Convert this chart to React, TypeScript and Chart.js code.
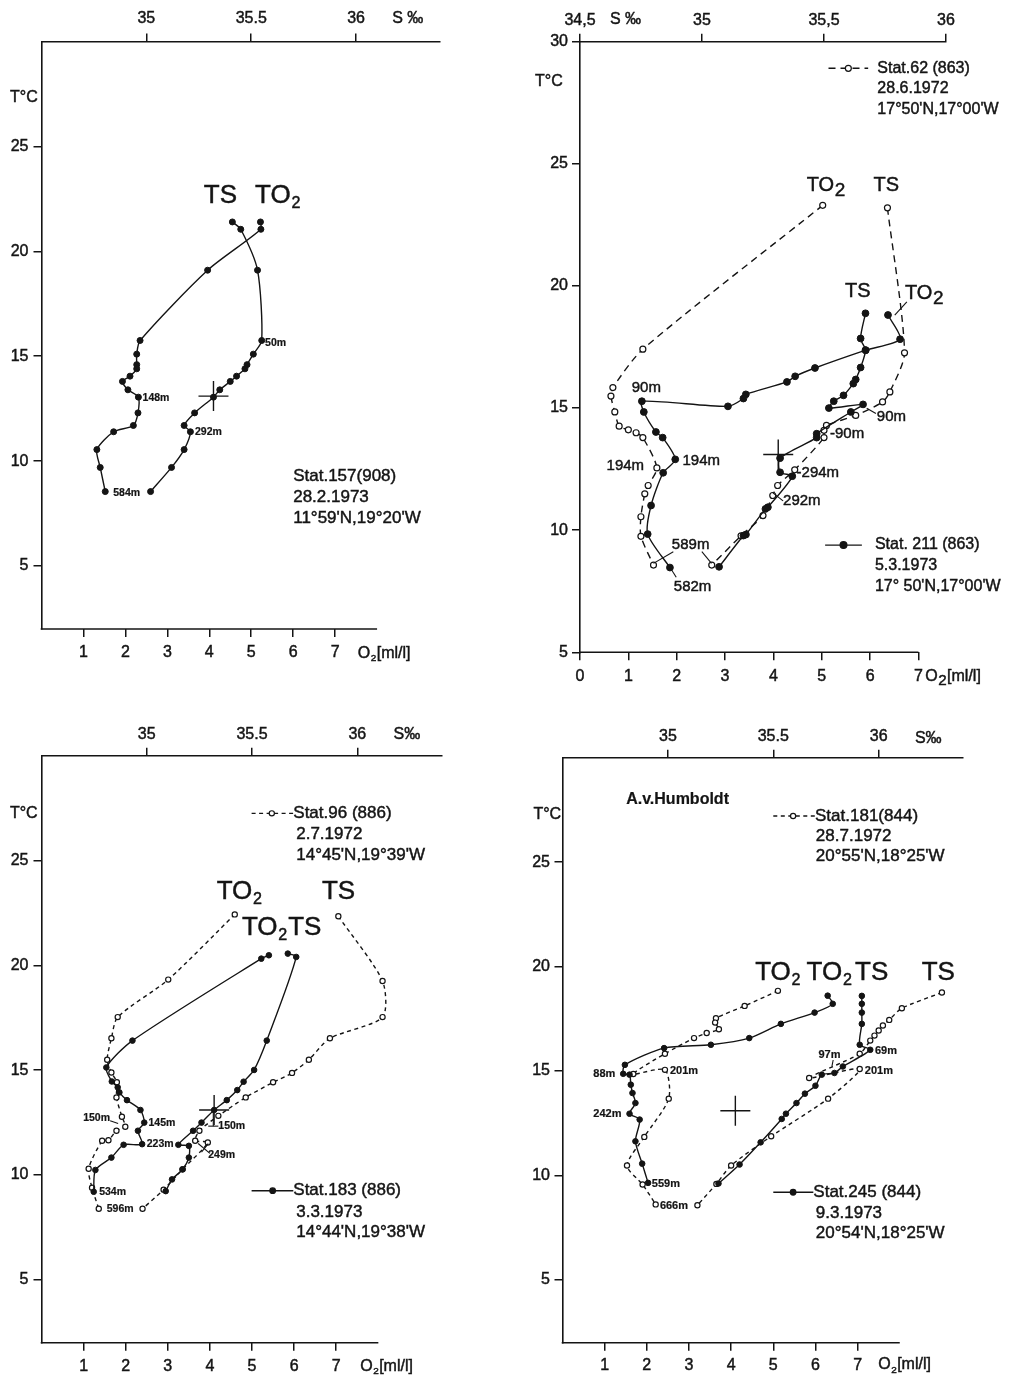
import React, { useEffect, useRef } from 'react';
import { Chart, registerables } from 'chart.js';

Chart.register(...registerables);

const INK = '#141414';
const FONT = '"Liberation Sans", "DejaVu Sans", Arial, sans-serif';

// ---------- Stat.157 (908), 28.2.1973 ----------
const st157Temp = [21.4, 21.05, 19.1, 15.75, 15.1, 14.6, 14.4, 14.05, 13.8, 13.4, 13.05, 12.3, 11.7, 11.4, 10.55, 9.7, 8.55];
const st157Sal = [35.41, 35.45, 35.53, 35.55, 35.51, 35.48, 35.47, 35.43, 35.4, 35.35, 35.32, 35.23, 35.18, 35.21, 35.18, 35.12, 35.02];
const st157Oxy = [5.22, 5.23, 3.96, 2.35, 2.27, 2.27, 2.27, 2.11, 1.93, 2.06, 2.31, 2.3, 2.19, 1.72, 1.32, 1.4, 1.52];

// ---------- Stat.62 (863), 28.6.1972 ----------
const st62TempO = [23.3, 17.41, 15.84, 15.49, 14.84, 14.26, 14.11, 13.99, 13.79, 12.55, 11.83, 11.49, 10.55, 9.75, 8.57];
const st62Oxy = [5.02, 1.3, 0.68, 0.64, 0.72, 0.81, 1.0, 1.16, 1.3, 1.59, 1.41, 1.34, 1.26, 1.26, 1.52];
const st62TempS = [23.2, 17.26, 15.66, 15.25, 14.7, 14.29, 14.09, 13.79, 12.47, 11.83, 11.42, 10.6, 9.77, 8.57];
const st62Sal = [35.76, 35.83, 35.77, 35.74, 35.63, 35.51, 35.5, 35.5, 35.38, 35.31, 35.29, 35.25, 35.16, 35.04];

// ---------- Stat.211 (863), 5.3.1973 ----------
const st211TempO = [18.81, 17.82, 17.37, 16.64, 16.3, 16.07, 15.56, 15.39, 15.07, 15.28, 14.84, 14.02, 13.79, 12.9, 12.35, 11.01, 9.84, 8.47];
const st211Oxy = [6.37, 6.62, 5.91, 4.86, 4.45, 4.28, 3.43, 3.38, 3.06, 1.28, 1.32, 1.57, 1.71, 1.97, 1.72, 1.47, 1.4, 1.86];
const st211TempS = [18.88, 17.85, 17.37, 16.66, 16.17, 16.0, 15.52, 15.28, 15.0, 15.15, 14.84, 13.95, 13.79, 12.95, 12.37, 12.21, 10.94, 10.87, 9.82, 9.78, 8.5];
const st211Sal = [35.67, 35.65, 35.67, 35.65, 35.63, 35.62, 35.58, 35.54, 35.52, 35.66, 35.61, 35.47, 35.47, 35.32, 35.32, 35.37, 35.27, 35.26, 35.18, 35.17, 35.07];

// ---------- Stat.96 (886), 2.7.1972 ----------
const st96TempO = [22.43, 19.32, 17.53, 16.52, 15.5, 14.89, 14.42, 13.7, 12.78, 12.3, 12.11, 11.66, 11.63, 10.3, 9.39, 8.39];
const st96Oxy = [4.59, 3.01, 1.81, 1.66, 1.56, 1.66, 1.79, 1.78, 1.91, 1.99, 1.78, 1.59, 1.44, 1.12, 1.2, 1.36];
const st96TempS = [22.34, 19.25, 17.53, 16.52, 15.5, 14.87, 14.42, 13.7, 12.82, 12.11, 11.63, 11.55, 10.27, 9.3, 8.39];
const st96Sal = [35.91, 36.12, 36.12, 35.87, 35.77, 35.69, 35.6, 35.47, 35.34, 35.25, 35.23, 35.29, 35.17, 35.08, 34.98];

// ---------- Stat.183 (886), 3.3.1973 ----------
const st183TempO = [20.48, 20.32, 16.41, 15.13, 14.46, 14.18, 13.94, 13.57, 13.1, 12.5, 12.11, 11.47, 11.44, 10.83, 10.24, 9.2];
const st183Oxy = [5.4, 5.22, 2.16, 1.54, 1.67, 1.81, 1.85, 2.03, 2.35, 2.44, 2.29, 2.39, 1.95, 1.66, 1.28, 1.24];
const st183TempS = [20.56, 20.4, 16.41, 15.01, 14.45, 14.05, 13.57, 13.1, 12.5, 12.11, 11.44, 11.39, 10.83, 10.27, 9.79, 9.23];
const st183Sal = [35.67, 35.71, 35.57, 35.51, 35.46, 35.43, 35.38, 35.32, 35.26, 35.22, 35.15, 35.2, 35.2, 35.17, 35.12, 35.09];

// ---------- Stat.181 (844), 28.7.1972 ----------
const st181TempO = [18.84, 18.12, 17.53, 17.32, 17.0, 16.82, 16.58, 15.83, 14.86, 15.06, 13.68, 11.85, 10.48, 9.57, 8.62];
const st181Oxy = [5.11, 4.32, 3.64, 3.62, 3.71, 3.42, 3.12, 2.43, 1.68, 2.43, 2.52, 1.94, 1.53, 1.9, 2.21];
const st181TempS = [18.76, 18.01, 17.45, 17.18, 16.94, 16.7, 16.46, 15.83, 14.67, 15.1, 13.68, 11.88, 10.48, 9.6, 8.58];
const st181Sal = [36.3, 36.11, 36.05, 36.02, 36.0, 35.98, 35.96, 35.91, 35.67, 35.91, 35.76, 35.49, 35.3, 35.23, 35.14];

// ---------- Stat.245 (844), 9.3.1973 ----------
const st245TempO = [18.61, 18.22, 17.8, 17.26, 16.58, 16.26, 16.1, 15.3, 14.87, 14.83, 14.35, 13.95, 13.47, 12.96, 12.68, 11.64, 10.57, 9.65];
const st245Oxy = [6.29, 6.41, 5.98, 5.18, 4.43, 3.52, 2.41, 1.48, 1.44, 1.59, 1.62, 1.66, 1.73, 1.59, 1.83, 1.73, 1.89, 2.03];
const st245TempS = [18.6, 18.22, 17.8, 17.26, 16.26, 16.02, 15.22, 14.91, 14.83, 14.3, 13.92, 13.47, 12.96, 12.71, 11.59, 10.53, 9.62];
const st245Sal = [35.92, 35.92, 35.92, 35.92, 35.91, 35.96, 35.83, 35.79, 35.73, 35.7, 35.65, 35.61, 35.56, 35.54, 35.44, 35.34, 35.24];

// reference cross (O2 / T)
const refMarkO2 = [4.1];
const refMarkTemp = [13.1];

// axis ticks
const o2TicksA = [1, 2, 3, 4, 5, 6, 7];
const o2TicksB = [0, 1, 2, 3, 4, 5, 6, 7];
const tempTicksA = [5, 10, 15, 20, 25];
const tempTicksB = [5, 10, 15, 20, 25, 30];
const salTicksA = [35, 35.5, 36];
const salLabelsA = ['35', '35.5', '36'];
const salTicksB = [34.5, 35, 35.5, 36];
const salLabelsB = ['34,5', '35', '35,5', '36'];

const pts = (xs: number[], ts: number[]) => xs.map((v, i) => ({ x: v, y: ts[i] }));

// text with "_x" meaning x is drawn as a subscript
function drawRich(ctx: CanvasRenderingContext2D, str: string, x: number, y: number, size: number, bold: boolean, sub: any) {
  const setFont = (s: number) => { ctx.font = `${bold ? 'bold ' : ''}${s}px ${FONT}`; };
  const put = (s: string, px: number, py: number) => { ctx.strokeText(s, px, py); ctx.fillText(s, px, py); };
  ctx.lineWidth = bold ? 0.2 : 0.45;
  ctx.strokeStyle = INK;
  const parts = str.split('_');
  let cx = x;
  setFont(size);
  put(parts[0], cx, y);
  cx += ctx.measureText(parts[0]).width;
  for (let i = 1; i < parts.length; i++) {
    const sc = parts[i].charAt(0);
    const rest = parts[i].slice(1);
    setFont(size * sub.scale);
    put(sc, cx + size * 0.03, y + size * sub.drop);
    cx += ctx.measureText(sc).width + size * 0.06;
    setFont(size);
    put(rest, cx, y);
    cx += ctx.measureText(rest).width;
  }
}

function annotations(p: any) {
  return {
    id: 'annotations',
    afterDraw(chart: any) {
      const ctx: CanvasRenderingContext2D = chart.ctx;
      const xs = chart.scales.x;
      const ys = chart.scales.y;
      const px = (v: number) => xs.getPixelForValue(v);
      const py = (v: number) => ys.getPixelForValue(v);
      const bottom = chart.chartArea.bottom;
      ctx.save();
      ctx.strokeStyle = INK;
      ctx.setLineDash([]);
      ctx.lineWidth = 1.6;
      ctx.beginPath();
      ctx.moveTo(px(0) - 0.8, bottom);
      ctx.lineTo(px(p.o2AxisEnd), bottom);
      ctx.stroke();

      ctx.lineWidth = 1.1;
      for (const [a, b, c, d] of p.leaders) {
        ctx.beginPath();
        ctx.moveTo(px(a), py(b));
        ctx.lineTo(px(c), py(d));
        ctx.stroke();
      }

      for (const g of p.legends) {
        ctx.lineWidth = 1.4;
        ctx.setLineDash(g.open ? p.dash : []);
        ctx.beginPath();
        ctx.moveTo(px(g.x1), py(g.y));
        ctx.lineTo(px(g.x2), py(g.y));
        ctx.stroke();
        ctx.setLineDash([]);
        ctx.beginPath();
        ctx.arc(px(g.xc), py(g.y), g.open ? p.rOpen : p.rFilled, 0, Math.PI * 2);
        ctx.fillStyle = g.open ? '#fff' : INK;
        ctx.fill();
        ctx.lineWidth = 1.2;
        ctx.stroke();
      }

      ctx.fillStyle = INK;
      ctx.textBaseline = 'middle';
      ctx.textAlign = 'left';
      for (const t of p.texts) drawRich(ctx, t.t, px(t.x), py(t.y), t.size, !!t.bold, p.sub);
      ctx.restore();
    },
  };
}

function makeConfig(p: any): any {
  const font = { family: FONT, size: 16 };
  const grid = { drawOnChartArea: false, drawTicks: true, tickLength: 8, color: INK, lineWidth: 1.5 };
  const tickText = { color: INK, textStrokeColor: INK, textStrokeWidth: 0.45 };
  const datasets: any[] = p.curves.map((c: any) => ({
    type: 'scatter',
    data: pts(c.xs, c.ts),
    xAxisID: c.axis,
    yAxisID: 'y',
    showLine: true,
    borderColor: INK,
    borderWidth: 1.4,
    borderDash: c.open ? p.dash : [],
    tension: 0.25,
    pointRadius: c.open ? p.rOpen : p.rFilled,
    pointHoverRadius: c.open ? p.rOpen : p.rFilled,
    pointBackgroundColor: c.open ? '#fff' : INK,
    pointBorderColor: INK,
    pointBorderWidth: c.open ? 1.2 : 1,
    order: c.open ? 2 : 1,
  }));
  datasets.push({
    type: 'scatter',
    data: pts(refMarkO2, refMarkTemp),
    xAxisID: 'x',
    yAxisID: 'y',
    showLine: false,
    pointStyle: 'cross',
    pointRadius: 15,
    pointHoverRadius: 15,
    pointBorderColor: INK,
    pointBorderWidth: 1.4,
    order: 0,
  });

  return {
    type: 'scatter',
    data: { datasets },
    plugins: [annotations(p)],
    options: {
      responsive: false,
      animation: false,
      devicePixelRatio: 1,
      events: [],
      layout: { padding: { left: 0, top: 0, bottom: 0, right: p.box.w - p.area.right } },
      plugins: { legend: { display: false }, tooltip: { enabled: false } },
      scales: {
        x: {
          type: 'linear',
          position: 'bottom',
          min: 0,
          max: p.o2Max,
          grid,
          border: { display: false },
          ticks: { font, ...tickText, padding: p.pad.bottom, maxRotation: 0, autoSkip: false, callback: (v: number) => String(v) },
          afterBuildTicks: (s: any) => { s.ticks = p.o2Ticks.map((value: number) => ({ value })); },
          afterFit: (s: any) => { s.height = p.box.h - p.area.bottom; s.paddingLeft = 0; s.paddingRight = 0; },
        },
        x2: {
          type: 'linear',
          position: 'top',
          min: 34.5,
          max: p.sMax,
          grid,
          border: { display: true, color: INK, width: 1.6 },
          ticks: { font, ...tickText, padding: p.pad.top, maxRotation: 0, autoSkip: false, callback: (_v: number, i: number) => p.sLabels[i] },
          afterBuildTicks: (s: any) => { s.ticks = p.sTicks.map((value: number) => ({ value })); },
          afterFit: (s: any) => { s.height = p.area.top; s.paddingLeft = 0; s.paddingRight = 0; },
        },
        y: {
          type: 'linear',
          position: 'left',
          min: p.yMin,
          max: p.yMax,
          grid,
          border: { display: true, color: INK, width: 1.6 },
          ticks: { font, ...tickText, padding: p.pad.left, autoSkip: false, callback: (v: number) => String(v) },
          afterBuildTicks: (s: any) => { s.ticks = p.yTicks.map((value: number) => ({ value })); },
          afterFit: (s: any) => { s.width = p.area.left; s.paddingTop = 0; s.paddingBottom = 0; },
        },
      },
    },
  };
}

const smallSub = { scale: 0.62, drop: 0.3 };

const panel157 = {
  box: { x: 0, y: 0, w: 470, h: 680 },
  area: { left: 41.5, top: 41.5, right: 440, bottom: 629 },
  yMin: 2, yMax: 30, yTicks: tempTicksA,
  o2Max: 9.5, o2Ticks: o2TicksA, o2AxisEnd: 8,
  sMax: 36.4, sTicks: salTicksA, sLabels: salLabelsA,
  pad: { top: 5, bottom: 6, left: 5 },
  sub: smallSub, dash: [5, 4], rFilled: 3, rOpen: 2.5,
  curves: [
    { axis: 'x2', xs: st157Sal, ts: st157Temp, open: false },
    { axis: 'x', xs: st157Oxy, ts: st157Temp, open: false },
  ],
  leaders: [],
  legends: [],
  texts: [
    { t: 'T°C', x: -0.75, y: 27.35, size: 16 },
    { t: 'S ‰', x: 8.36, y: 31.07, size: 16 },
    { t: 'O_2[ml/l]', x: 7.54, y: 0.85, size: 16 },
    { t: 'TS', x: 3.87, y: 22.64, size: 26 },
    { t: 'TO_2', x: 5.09, y: 22.64, size: 26 },
    { t: '50m', x: 5.33, y: 15.64, size: 10.5, bold: true },
    { t: '148m', x: 2.41, y: 12.99, size: 10.5, bold: true },
    { t: '292m', x: 3.66, y: 11.37, size: 10.5, bold: true },
    { t: '584m', x: 1.71, y: 8.47, size: 10.5, bold: true },
    { t: 'Stat.157(908)', x: 6.0, y: 9.26, size: 17 },
    { t: '28.2.1973', x: 6.0, y: 8.26, size: 17 },
    { t: "11°59'N,19°20'W", x: 6.0, y: 7.29, size: 17 },
  ],
};

const panel62 = {
  box: { x: 515, y: 0, w: 505, h: 700 },
  area: { left: 65, top: 41.7, right: 431, bottom: 652.3 },
  yMin: 5, yMax: 30, yTicks: tempTicksB,
  o2Max: 7.57, o2Ticks: o2TicksB, o2AxisEnd: 7,
  sMax: 36, sTicks: salTicksB, sLabels: salLabelsB,
  pad: { top: 4, bottom: 7, left: 4 },
  sub: { scale: 0.95, drop: 0.28 }, dash: [7, 5], rFilled: 3.4, rOpen: 3,
  curves: [
    { axis: 'x', xs: st62Oxy, ts: st62TempO, open: true },
    { axis: 'x2', xs: st62Sal, ts: st62TempS, open: true },
    { axis: 'x', xs: st211Oxy, ts: st211TempO, open: false },
    { axis: 'x2', xs: st211Sal, ts: st211TempS, open: false },
  ],
  leaders: [
    [6.51, 18.81, 6.76, 19.35],
    [5.93, 14.99, 6.12, 14.78],
    [3.99, 11.53, 4.2, 11.2],
    [1.52, 8.64, 1.93, 9.12],
    [2.52, 9.12, 2.72, 8.64],
    [1.86, 8.48, 1.99, 8.07],
  ],
  legends: [
    { x1: 5.14, x2: 5.96, xc: 5.55, y: 28.91, open: true },
    { x1: 5.07, x2: 5.83, xc: 5.45, y: 9.39, open: false },
  ],
  texts: [
    { t: 'T°C', x: -0.93, y: 28.36, size: 16 },
    { t: 'S ‰', x: 0.62, y: 30.89, size: 16 },
    { t: 'O_2[ml/l]', x: 7.14, y: 4.0, size: 16 },
    { t: 'TO_2', x: 4.69, y: 24.13, size: 20 },
    { t: 'TS', x: 6.07, y: 24.13, size: 20 },
    { t: 'TS', x: 5.48, y: 19.76, size: 20 },
    { t: 'TO_2', x: 6.72, y: 19.7, size: 20 },
    { t: '90m', x: 1.07, y: 15.81, size: 15 },
    { t: '194m', x: 0.55, y: 12.62, size: 15 },
    { t: '194m', x: 2.12, y: 12.83, size: 15 },
    { t: '90m', x: 6.14, y: 14.62, size: 15 },
    { t: '-90m', x: 5.17, y: 13.94, size: 15 },
    { t: '-294m', x: 4.48, y: 12.33, size: 15 },
    { t: '292m', x: 4.2, y: 11.19, size: 15 },
    { t: '589m', x: 1.9, y: 9.39, size: 15 },
    { t: '582m', x: 1.94, y: 7.66, size: 15 },
    { t: 'Stat.62 (863)', x: 6.15, y: 28.91, size: 16 },
    { t: '28.6.1972', x: 6.15, y: 28.09, size: 16 },
    { t: "17°50'N,17°00'W", x: 6.15, y: 27.23, size: 16 },
    { t: 'Stat. 211 (863)', x: 6.1, y: 9.39, size: 16 },
    { t: '5.3.1973', x: 6.1, y: 8.54, size: 16 },
    { t: "17° 50'N,17°00'W", x: 6.1, y: 7.68, size: 16 },
  ],
};

const panel96 = {
  box: { x: 0, y: 700, w: 470, h: 678 },
  area: { left: 41.5, top: 55.7, right: 441.5, bottom: 642.7 },
  yMin: 2, yMax: 30, yTicks: tempTicksA,
  o2Max: 9.5, o2Ticks: o2TicksA, o2AxisEnd: 8,
  sMax: 36.4, sTicks: salTicksA, sLabels: salLabelsA,
  pad: { top: 4, bottom: 6, left: 5 },
  sub: smallSub, dash: [4, 3.5], rFilled: 2.8, rOpen: 2.6,
  curves: [
    { axis: 'x', xs: st96Oxy, ts: st96TempO, open: true },
    { axis: 'x2', xs: st96Sal, ts: st96TempS, open: true },
    { axis: 'x', xs: st183Oxy, ts: st183TempO, open: false },
    { axis: 'x2', xs: st183Sal, ts: st183TempS, open: false },
  ],
  leaders: [
    [1.63, 12.59, 1.82, 12.46],
    [4.08, 13.02, 4.08, 12.33],
    [3.96, 12.33, 4.2, 12.33],
    [3.72, 11.5, 4.0, 11.03],
    [3.8, 11.09, 3.96, 11.5],
  ],
  legends: [
    { x1: 4.99, x2: 5.98, xc: 5.47, y: 27.25, open: true },
    { x1: 4.99, x2: 5.98, xc: 5.49, y: 9.25, open: false },
  ],
  texts: [
    { t: 'T°C', x: -0.75, y: 27.25, size: 16 },
    { t: 'S‰', x: 8.36, y: 30.99, size: 16 },
    { t: 'O_2[ml/l]', x: 7.57, y: 0.85, size: 16 },
    { t: 'TO_2', x: 4.16, y: 23.51, size: 26 },
    { t: 'TS', x: 6.66, y: 23.51, size: 26 },
    { t: 'TO_2', x: 4.76, y: 21.77, size: 26 },
    { t: 'TS', x: 5.86, y: 21.77, size: 26 },
    { t: '150m', x: 0.99, y: 12.7, size: 10.5, bold: true },
    { t: '145m', x: 2.54, y: 12.49, size: 10.5, bold: true },
    { t: '223m', x: 2.5, y: 11.47, size: 10.5, bold: true },
    { t: '534m', x: 1.37, y: 9.2, size: 10.5, bold: true },
    { t: '596m', x: 1.55, y: 8.37, size: 10.5, bold: true },
    { t: '150m', x: 4.2, y: 12.33, size: 10.5, bold: true },
    { t: '249m', x: 3.96, y: 10.95, size: 10.5, bold: true },
    { t: 'Stat.96 (886)', x: 5.98, y: 27.25, size: 17 },
    { t: '2.7.1972', x: 6.05, y: 26.26, size: 17 },
    { t: "14°45'N,19°39'W", x: 6.05, y: 25.26, size: 17 },
    { t: 'Stat.183 (886)', x: 5.98, y: 9.25, size: 17 },
    { t: '3.3.1973', x: 6.05, y: 8.24, size: 17 },
    { t: "14°44'N,19°38'W", x: 6.05, y: 7.28, size: 17 },
  ],
};

const panel181 = {
  box: { x: 510, y: 700, w: 510, h: 678 },
  area: { left: 52.5, top: 57.7, right: 453, bottom: 642.7 },
  yMin: 2, yMax: 30, yTicks: tempTicksA,
  o2Max: 9.5, o2Ticks: o2TicksA, o2AxisEnd: 8,
  sMax: 36.4, sTicks: salTicksA, sLabels: salLabelsA,
  pad: { top: 3.5, bottom: 5, left: 4.5 },
  sub: smallSub, dash: [4, 3.5], rFilled: 2.8, rOpen: 2.6,
  curves: [
    { axis: 'x', xs: st181Oxy, ts: st181TempO, open: true },
    { axis: 'x2', xs: st181Sal, ts: st181TempS, open: true },
    { axis: 'x', xs: st245Oxy, ts: st245TempO, open: false },
    { axis: 'x2', xs: st245Sal, ts: st245TempS, open: false },
  ],
  leaders: [[6.42, 15.53, 6.39, 15.21]],
  legends: [
    { x1: 5.0, x2: 5.99, xc: 5.47, y: 27.21, open: true },
    { x1: 5.0, x2: 5.95, xc: 5.47, y: 9.2, open: false },
  ],
  texts: [
    { t: 'T°C', x: -0.69, y: 27.26, size: 16 },
    { t: 'A.v.Humboldt', x: 1.51, y: 28.01, size: 16, bold: true },
    { t: 'S‰', x: 8.36, y: 30.93, size: 16 },
    { t: 'O_2[ml/l]', x: 7.49, y: 0.93, size: 16 },
    { t: 'TO_2', x: 4.57, y: 19.69, size: 26 },
    { t: 'TO_2', x: 5.79, y: 19.69, size: 26 },
    { t: 'TS', x: 6.94, y: 19.69, size: 26 },
    { t: 'TS', x: 8.52, y: 19.69, size: 26 },
    { t: '88m', x: 0.73, y: 14.84, size: 11, bold: true },
    { t: '242m', x: 0.73, y: 12.94, size: 11, bold: true },
    { t: '201m', x: 2.55, y: 15.02, size: 11, bold: true },
    { t: '559m', x: 2.12, y: 9.59, size: 11, bold: true },
    { t: '666m', x: 2.31, y: 8.54, size: 11, bold: true },
    { t: '97m', x: 6.07, y: 15.77, size: 11, bold: true },
    { t: '69m', x: 7.41, y: 15.97, size: 11, bold: true },
    { t: '201m', x: 7.17, y: 15.02, size: 11, bold: true },
    { t: 'Stat.181(844)', x: 5.99, y: 27.21, size: 17 },
    { t: '28.7.1972', x: 6.01, y: 26.22, size: 17 },
    { t: "20°55'N,18°25'W", x: 6.01, y: 25.26, size: 17 },
    { t: 'Stat.245 (844)', x: 5.95, y: 9.2, size: 17 },
    { t: '9.3.1973', x: 6.01, y: 8.2, size: 17 },
    { t: "20°54'N,18°25'W", x: 6.01, y: 7.24, size: 17 },
  ],
};

function Panel({ cfg }: { cfg: any }) {
  const ref = useRef<HTMLCanvasElement>(null);
  useEffect(() => {
    if (!ref.current) return;
    const chart = new Chart(ref.current, makeConfig(cfg));
    return () => chart.destroy();
  }, [cfg]);
  return (
    <canvas
      ref={ref}
      width={cfg.box.w}
      height={cfg.box.h}
      style={{ position: 'absolute', left: cfg.box.x, top: cfg.box.y, width: cfg.box.w, height: cfg.box.h }}
    />
  );
}

export default function App() {
  return (
    <div style={{ position: 'absolute', left: 0, top: 0, width: 1020, height: 1378, background: '#fff', overflow: 'hidden' }}>
      <Panel cfg={panel157} />
      <Panel cfg={panel62} />
      <Panel cfg={panel96} />
      <Panel cfg={panel181} />
    </div>
  );
}
